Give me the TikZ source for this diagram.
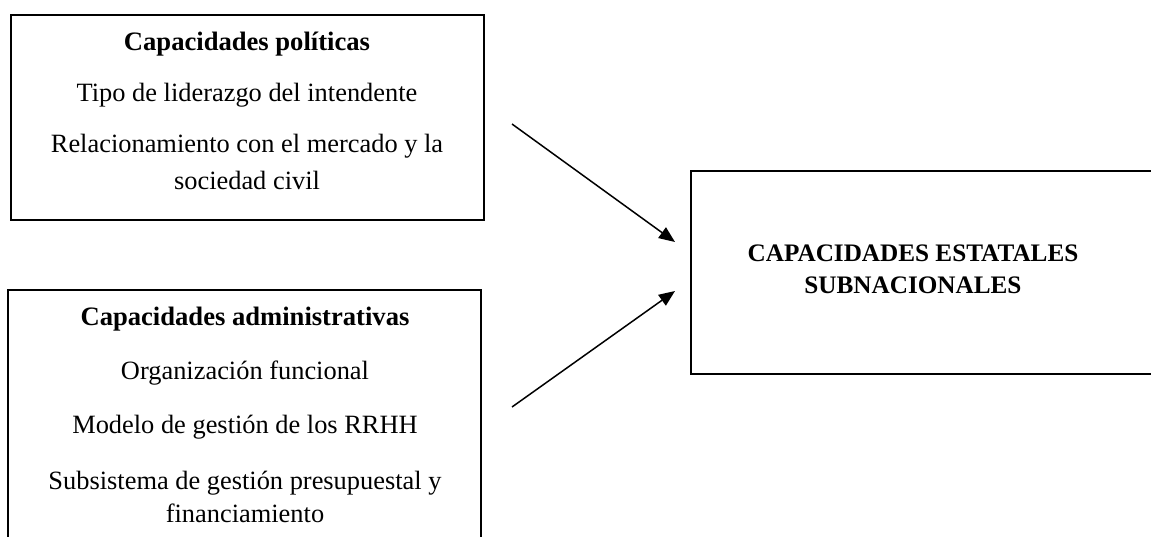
\documentclass[tikz,border=0pt]{standalone}
\usepackage{fontspec}
\setmainfont{Liberation Serif}
\usetikzlibrary{arrows.meta,positioning}
\tikzset{
    boxline/.style={draw=black, line width=0.8pt},
    txt/.style={anchor=base, inner sep=0pt, font=\fontsize{13.2}{16}\selectfont},
    head/.style={txt, font=\fontsize{13.3}{16}\selectfont\bfseries},
    caps/.style={txt, font=\fontsize{12.6}{16}\selectfont\bfseries},
    link/.style={line width=0.75pt, -{Triangle[length=8pt,width=6.5pt]}}
}
\begin{document}
\begin{tikzpicture}[x=0.5pt, y=-0.5pt]
        \clip (0,0) rectangle (1151,536);
        \draw[boxline] (11,15) rectangle (484,220);% politicas
        \draw[boxline] (8,290) rectangle (481,545);% administrativas
        \draw[boxline] (691,171) rectangle (1165,374);% estatales
        \node[head] (pol) at (247,50) {Capacidades políticas};
        \node[txt] (pola) at (247,101) {Tipo de liderazgo del intendente};
        \node[txt] (polb) at (247,152) {Relacionamiento con el mercado y la};
        \node[txt] (polc) at (247,189) {sociedad civil};
        \node[head] (adm) at (245,325) {Capacidades administrativas};
        \node[txt] (adma) at (245,379) {Organización funcional};
        \node[txt] (admb) at (245,433) {Modelo de gestión de los RRHH};
        \node[txt] (admc) at (245,489) {Subsistema de gestión presupuestal y};
        \node[txt] (admd) at (245,522) {financiamiento};
        \node[caps] (est) at (913,261) {CAPACIDADES ESTATALES};
        \node[caps] (esta) at (913,293) {SUBNACIONALES};
        \coordinate (fromA) at (512,124);
        \coordinate (toA) at (675,242);
        \coordinate (fromB) at (512,407);
        \coordinate (toB) at (675,291);
        \draw[link] (fromA) -- (toA);
        \draw[link] (fromB) -- (toB);
\end{tikzpicture}
\end{document}
